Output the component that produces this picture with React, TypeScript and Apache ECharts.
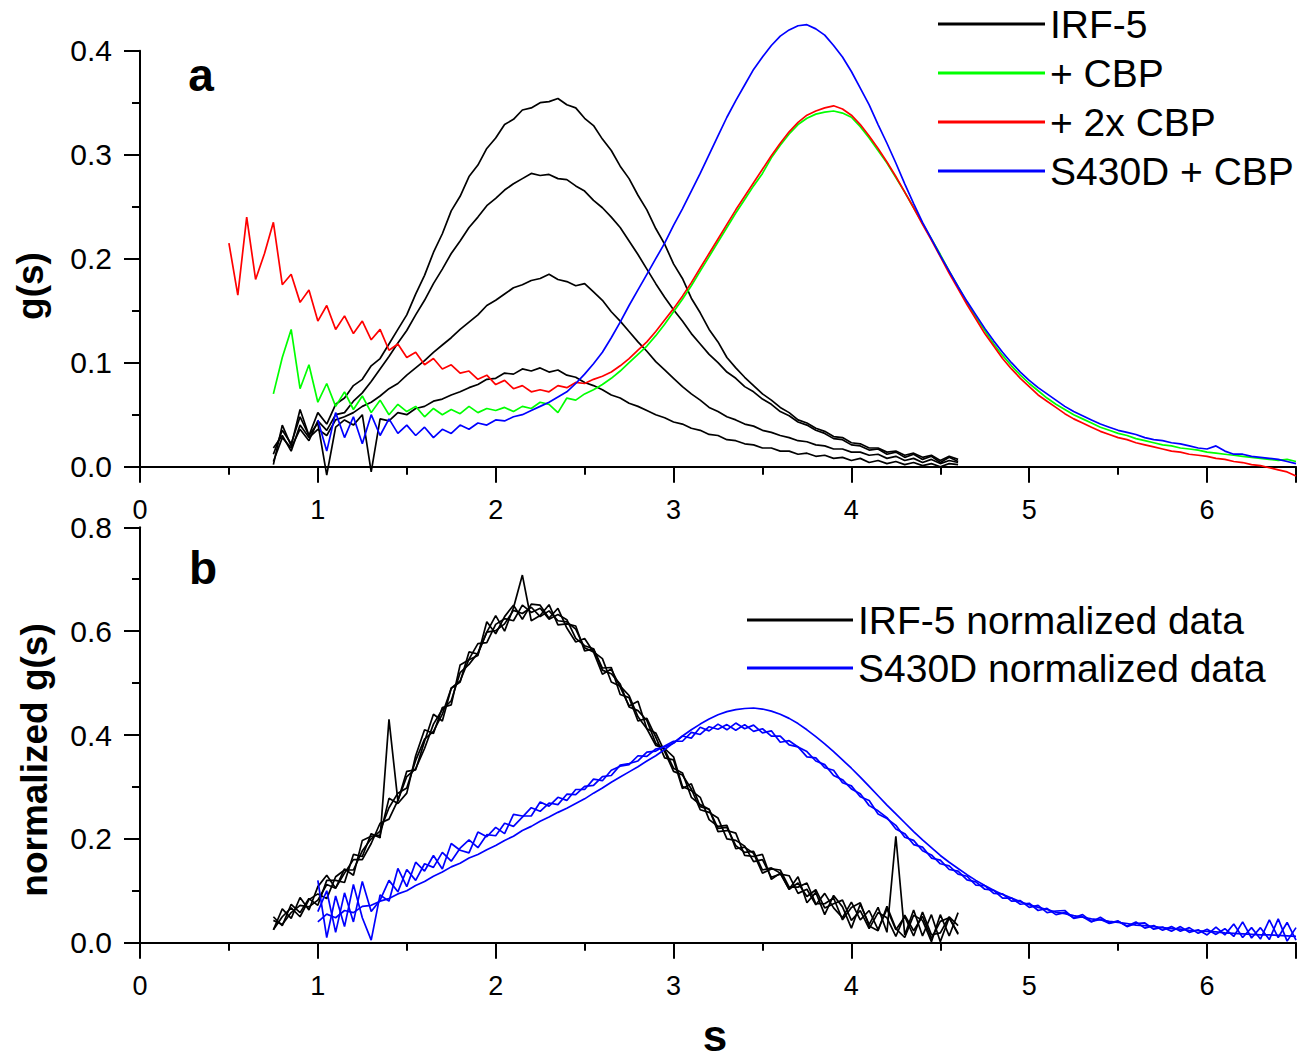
import React, { useEffect, useRef } from "react";
import * as echarts from "echarts";

// sedimentation coefficient grid: every series is sampled every 0.05 s
const S_STEP = 0.05;

// ---------- panel a : g(s) ----------
const IRF5_START = 0.75;
const irf5TopA = [0.012, 0.035, 0.022, 0.048, 0.030, 0.052, 0.041, 0.060, 0.066, 0.078,
  0.084, 0.097, 0.104, 0.118, 0.132, 0.146, 0.166, 0.184, 0.206, 0.224,
  0.246, 0.260, 0.279, 0.290, 0.306, 0.316, 0.329, 0.334, 0.343, 0.345,
  0.350, 0.351, 0.354, 0.348, 0.345, 0.335, 0.328, 0.315, 0.304, 0.289,
  0.277, 0.261, 0.247, 0.229, 0.214, 0.195, 0.181, 0.162, 0.148, 0.132,
  0.120, 0.105, 0.095, 0.086, 0.078, 0.070, 0.064, 0.057, 0.052, 0.045,
  0.042, 0.037, 0.034, 0.029, 0.028, 0.023, 0.022, 0.018, 0.018, 0.014,
  0.015, 0.011, 0.013, 0.009, 0.011, 0.006, 0.010, 0.007];
const irf5TopB = [0.005, 0.028, 0.018, 0.036, 0.025, 0.044, 0.035, 0.050, 0.052, 0.063,
  0.071, 0.082, 0.094, 0.106, 0.119, 0.131, 0.146, 0.160, 0.176, 0.190,
  0.205, 0.217, 0.230, 0.240, 0.251, 0.258, 0.266, 0.272, 0.277, 0.282,
  0.280, 0.281, 0.277, 0.276, 0.270, 0.265, 0.256, 0.249, 0.240, 0.230,
  0.217, 0.204, 0.190, 0.176, 0.163, 0.151, 0.140, 0.128, 0.118, 0.108,
  0.100, 0.091, 0.085, 0.077, 0.072, 0.065, 0.060, 0.053, 0.049, 0.043,
  0.040, 0.035, 0.032, 0.027, 0.026, 0.021, 0.020, 0.016, 0.017, 0.012,
  0.014, 0.009, 0.012, 0.007, 0.010, 0.004, 0.009, 0.005];
const irf5TopC = [0.018, 0.030, 0.015, 0.040, 0.028, 0.036, 0.030, 0.045, 0.048, 0.052,
  0.058, 0.062, 0.068, 0.075, 0.080, 0.088, 0.095, 0.102, 0.110, 0.117,
  0.124, 0.132, 0.139, 0.146, 0.155, 0.160, 0.166, 0.172, 0.175, 0.179,
  0.181, 0.185, 0.180, 0.178, 0.174, 0.176, 0.168, 0.160, 0.149, 0.140,
  0.130, 0.120, 0.111, 0.101, 0.093, 0.085, 0.077, 0.070, 0.064, 0.057,
  0.053, 0.048, 0.045, 0.041, 0.039, 0.035, 0.033, 0.030, 0.028, 0.025,
  0.024, 0.021, 0.020, 0.017, 0.017, 0.014, 0.014, 0.011, 0.012, 0.008,
  0.010, 0.006, 0.008, 0.004, 0.007, 0.003, 0.006, 0.004];
const irf5TopD = [0.002, 0.040, 0.020, 0.055, 0.030, 0.042, -0.008, 0.038, 0.045, 0.040,
  0.050, -0.005, 0.046, 0.044, 0.052, 0.050, 0.056, 0.058, 0.063, 0.065,
  0.069, 0.072, 0.076, 0.079, 0.084, 0.085, 0.090, 0.089, 0.094, 0.092,
  0.095, 0.091, 0.093, 0.088, 0.086, 0.081, 0.078, 0.074, 0.069, 0.066,
  0.061, 0.058, 0.054, 0.050, 0.047, 0.043, 0.041, 0.037, 0.035, 0.031,
  0.030, 0.026, 0.025, 0.022, 0.021, 0.018, 0.018, 0.015, 0.015, 0.012,
  0.013, 0.010, 0.011, 0.008, 0.009, 0.006, 0.008, 0.004, 0.006, 0.003,
  0.005, 0.002, 0.004, 0.001, 0.003, 0.000, 0.003, 0.002];

const CBP_START = 0.75;
const cbpValues = [0.070, 0.105, 0.132, 0.075, 0.098, 0.062, 0.080, 0.058, 0.072, 0.055,
  0.068, 0.052, 0.064, 0.050, 0.060, 0.053, 0.058, 0.048, 0.056, 0.050,
  0.055, 0.051, 0.058, 0.052, 0.056, 0.054, 0.057, 0.053, 0.058, 0.056,
  0.062, 0.060, 0.052, 0.066, 0.064, 0.070, 0.074, 0.079, 0.085, 0.092,
  0.100, 0.108, 0.116, 0.126, 0.137, 0.149, 0.161, 0.174, 0.188, 0.202,
  0.216, 0.230, 0.244, 0.257, 0.270, 0.282, 0.297, 0.309, 0.320, 0.329,
  0.335, 0.339, 0.341, 0.342, 0.340, 0.336, 0.327, 0.316, 0.304, 0.292,
  0.278, 0.264, 0.249, 0.234, 0.219, 0.204, 0.188, 0.173, 0.158, 0.144,
  0.131, 0.118, 0.107, 0.097, 0.088, 0.080, 0.073, 0.066, 0.060, 0.055,
  0.050, 0.046, 0.042, 0.038, 0.035, 0.032, 0.030, 0.027, 0.025, 0.023,
  0.021, 0.020, 0.018, 0.017, 0.016, 0.014, 0.013, 0.012, 0.011, 0.010,
  0.009, 0.008, 0.007, 0.006, 0.007, 0.005];

const CBP2_START = 0.5;
const cbp2Values = [0.215, 0.165, 0.240, 0.180, 0.205, 0.235, 0.175, 0.185, 0.158, 0.170,
  0.140, 0.155, 0.132, 0.145, 0.128, 0.140, 0.122, 0.132, 0.112, 0.118,
  0.105, 0.110, 0.098, 0.104, 0.094, 0.098, 0.090, 0.092, 0.084, 0.088,
  0.079, 0.083, 0.075, 0.078, 0.072, 0.074, 0.072, 0.078, 0.076, 0.081,
  0.080, 0.084, 0.087, 0.091, 0.097, 0.104, 0.112, 0.120, 0.130, 0.141,
  0.152, 0.164, 0.177, 0.191, 0.205, 0.219, 0.233, 0.247, 0.260, 0.273,
  0.286, 0.299, 0.311, 0.322, 0.331, 0.338, 0.342, 0.345, 0.347, 0.344,
  0.338, 0.329, 0.318, 0.306, 0.293, 0.279, 0.264, 0.249, 0.233, 0.218,
  0.202, 0.186, 0.171, 0.156, 0.142, 0.128, 0.116, 0.104, 0.094, 0.085,
  0.077, 0.069, 0.063, 0.057, 0.051, 0.046, 0.042, 0.038, 0.034, 0.031,
  0.028, 0.026, 0.023, 0.021, 0.019, 0.017, 0.015, 0.014, 0.012, 0.011,
  0.010, 0.008, 0.007, 0.005, 0.004, 0.002, 0.001, -0.001, -0.003, -0.005,
  -0.009];

const S430D_START = 1.0;
const s430dCbpValues = [0.045, 0.015, 0.052, 0.028, 0.048, 0.022, 0.050, 0.030, 0.046, 0.032,
  0.040, 0.030, 0.038, 0.028, 0.036, 0.032, 0.040, 0.036, 0.042, 0.040,
  0.045, 0.044, 0.048, 0.050, 0.054, 0.058, 0.062, 0.067, 0.072, 0.080,
  0.089, 0.099, 0.110, 0.124, 0.139, 0.155, 0.170, 0.185, 0.200, 0.215,
  0.232, 0.248, 0.265, 0.282, 0.300, 0.318, 0.336, 0.352, 0.367, 0.382,
  0.394, 0.405, 0.414, 0.420, 0.424, 0.425, 0.421, 0.415, 0.405, 0.394,
  0.380, 0.364, 0.348, 0.329, 0.311, 0.292, 0.272, 0.253, 0.235, 0.219,
  0.203, 0.188, 0.173, 0.159, 0.146, 0.133, 0.121, 0.110, 0.100, 0.091,
  0.083, 0.076, 0.070, 0.064, 0.058, 0.053, 0.049, 0.045, 0.041, 0.038,
  0.035, 0.033, 0.031, 0.028, 0.026, 0.025, 0.023, 0.022, 0.020, 0.018,
  0.017, 0.020, 0.015, 0.012, 0.012, 0.010, 0.009, 0.008, 0.007, 0.005,
  0.003];

// ---------- panel b : normalized g(s) ----------
const irf5NormA = [0.025, 0.065, 0.047, 0.087, 0.063, 0.108, 0.130, 0.105, 0.142, 0.130,
  0.197, 0.205, 0.207, 0.278, 0.268, 0.288, 0.360, 0.410, 0.403, 0.453,
  0.458, 0.535, 0.545, 0.553, 0.618, 0.595, 0.628, 0.650, 0.623, 0.652,
  0.650, 0.625, 0.644, 0.606, 0.579, 0.586, 0.560, 0.517, 0.527, 0.492,
  0.456, 0.465, 0.412, 0.380, 0.374, 0.358, 0.301, 0.293, 0.280, 0.237,
  0.224, 0.226, 0.181, 0.184, 0.172, 0.134, 0.142, 0.140, 0.107, 0.107,
  0.115, 0.075, 0.075, 0.086, 0.044, 0.068, 0.077, 0.032, 0.023, 0.070,
  0.027, 0.010, 0.053, 0.043, 0.002, 0.054, 0.013, 0.058];
const irf5NormB = [0.050, 0.033, 0.074, 0.058, 0.085, 0.072, 0.120, 0.120, 0.116, 0.170,
  0.166, 0.210, 0.202, 0.430, 0.273, 0.330, 0.333, 0.388, 0.440, 0.427,
  0.490, 0.502, 0.560, 0.556, 0.598, 0.630, 0.600, 0.645, 0.708, 0.620,
  0.630, 0.651, 0.612, 0.614, 0.610, 0.562, 0.566, 0.529, 0.530, 0.478,
  0.472, 0.427, 0.432, 0.396, 0.356, 0.352, 0.297, 0.306, 0.262, 0.257,
  0.214, 0.216, 0.211, 0.168, 0.166, 0.170, 0.122, 0.134, 0.103, 0.127,
  0.077, 0.097, 0.054, 0.091, 0.069, 0.028, 0.074, 0.035, 0.068, 0.020,
  0.205, 0.015, 0.063, 0.013, 0.054, 0.002, 0.048, 0.016];
const irf5NormC = [0.025, 0.050, 0.067, 0.050, 0.083, 0.094, 0.085, 0.127, 0.140, 0.140,
  0.177, 0.200, 0.215, 0.260, 0.288, 0.298, 0.351, 0.392, 0.407, 0.440,
  0.490, 0.504, 0.546, 0.576, 0.578, 0.613, 0.624, 0.620, 0.650, 0.636,
  0.644, 0.623, 0.632, 0.622, 0.586, 0.572, 0.566, 0.525, 0.518, 0.498,
  0.454, 0.447, 0.428, 0.384, 0.372, 0.336, 0.327, 0.280, 0.266, 0.257,
  0.220, 0.222, 0.187, 0.174, 0.176, 0.140, 0.144, 0.134, 0.103, 0.115,
  0.089, 0.102, 0.067, 0.075, 0.082, 0.043, 0.062, 0.027, 0.058, 0.048,
  0.012, 0.053, 0.023, 0.051, 0.008, 0.041, 0.048, 0.018];
const irf5NormD = [0.043, 0.035, 0.058, 0.072, 0.069, 0.082, 0.112, 0.105, 0.134, 0.160,
  0.160, 0.191, 0.230, 0.238, 0.274, 0.320, 0.335, 0.374, 0.421, 0.449,
  0.466, 0.520, 0.536, 0.558, 0.598, 0.601, 0.614, 0.640, 0.634, 0.646,
  0.628, 0.639, 0.620, 0.618, 0.604, 0.568, 0.560, 0.547, 0.502, 0.494,
  0.476, 0.435, 0.412, 0.404, 0.368, 0.330, 0.323, 0.296, 0.256, 0.251,
  0.240, 0.200, 0.197, 0.186, 0.156, 0.160, 0.126, 0.132, 0.129, 0.095,
  0.103, 0.073, 0.095, 0.067, 0.048, 0.078, 0.044, 0.062, 0.025, 0.065,
  0.025, 0.050, 0.013, 0.059, 0.015, 0.019, 0.050, 0.033];

const s430dNormA = [0.040, 0.055, 0.048, 0.062, 0.058, 0.070, 0.072, 0.080, 0.085, 0.094,
  0.100, 0.110, 0.118, 0.128, 0.136, 0.146, 0.153, 0.163, 0.170, 0.179,
  0.187, 0.197, 0.205, 0.216, 0.224, 0.234, 0.242, 0.251, 0.259, 0.268,
  0.277, 0.288, 0.298, 0.309, 0.319, 0.329, 0.339, 0.350, 0.360, 0.372,
  0.385, 0.398, 0.410, 0.421, 0.431, 0.439, 0.445, 0.449, 0.451, 0.452,
  0.450, 0.446, 0.440, 0.432, 0.422, 0.410, 0.397, 0.383, 0.368, 0.352,
  0.336, 0.319, 0.301, 0.283, 0.265, 0.248, 0.231, 0.214, 0.198, 0.183,
  0.168, 0.155, 0.143, 0.131, 0.120, 0.110, 0.101, 0.093, 0.086, 0.079,
  0.073, 0.068, 0.064, 0.059, 0.056, 0.052, 0.049, 0.046, 0.044, 0.041,
  0.039, 0.037, 0.034, 0.033, 0.031, 0.029, 0.027, 0.026, 0.024, 0.023,
  0.022, 0.021, 0.019, 0.018, 0.017, 0.016, 0.015, 0.015, 0.014, 0.013,
  0.012];
const s430dNormB = [0.120, 0.010, 0.090, 0.031, 0.112, 0.048, 0.005, 0.092, 0.080, 0.143,
  0.108, 0.155, 0.138, 0.168, 0.142, 0.191, 0.178, 0.173, 0.213, 0.204,
  0.222, 0.210, 0.247, 0.244, 0.244, 0.271, 0.263, 0.280, 0.274, 0.295,
  0.295, 0.315, 0.312, 0.332, 0.340, 0.343, 0.360, 0.359, 0.373, 0.377,
  0.384, 0.398, 0.394, 0.415, 0.408, 0.421, 0.410, 0.423, 0.412, 0.419,
  0.404, 0.408, 0.386, 0.389, 0.377, 0.358, 0.356, 0.337, 0.332, 0.308,
  0.302, 0.281, 0.274, 0.248, 0.239, 0.226, 0.203, 0.197, 0.177, 0.169,
  0.152, 0.148, 0.132, 0.128, 0.111, 0.110, 0.095, 0.094, 0.080, 0.081,
  0.068, 0.072, 0.058, 0.061, 0.062, 0.047, 0.050, 0.040, 0.049, 0.038,
  0.042, 0.031, 0.037, 0.038, 0.026, 0.030, 0.022, 0.031, 0.020, 0.025,
  0.015, 0.030, 0.015, 0.036, 0.010, 0.029, 0.007, 0.044, 0.010, 0.039,
  0.005];
const s430dNormC = [0.060, 0.100, 0.020, 0.096, 0.040, 0.118, 0.060, 0.082, 0.120, 0.098,
  0.141, 0.120, 0.152, 0.145, 0.174, 0.157, 0.182, 0.198, 0.183, 0.208,
  0.206, 0.230, 0.224, 0.242, 0.260, 0.253, 0.269, 0.266, 0.286, 0.285,
  0.301, 0.303, 0.320, 0.322, 0.342, 0.345, 0.350, 0.367, 0.369, 0.379,
  0.388, 0.388, 0.405, 0.401, 0.416, 0.411, 0.420, 0.409, 0.420, 0.407,
  0.412, 0.398, 0.398, 0.381, 0.377, 0.368, 0.350, 0.343, 0.322, 0.314,
  0.296, 0.287, 0.264, 0.254, 0.241, 0.219, 0.210, 0.189, 0.184, 0.163,
  0.159, 0.141, 0.138, 0.121, 0.117, 0.103, 0.101, 0.086, 0.086, 0.074,
  0.076, 0.062, 0.066, 0.054, 0.058, 0.048, 0.054, 0.041, 0.045, 0.037,
  0.041, 0.032, 0.040, 0.028, 0.033, 0.024, 0.031, 0.022, 0.029, 0.018,
  0.026, 0.016, 0.027, 0.012, 0.040, 0.009, 0.029, 0.006, 0.046, 0.003,
  0.029];

// ---------- axes ----------
const X_MIN = 0;
const X_MAX = 6.5;
const X_MAJOR = 1;
const X_MINOR = 0.5;
const TOP_Y_MAX = 0.4;
const TOP_Y_STEP = 0.1;
const BOTTOM_Y_MAX = 0.8;
const BOTTOM_Y_STEP = 0.2;

const topLegend = ["IRF-5", "+ CBP", "+ 2x CBP", "S430D + CBP"];
const bottomLegend = ["IRF-5 normalized data", "S430D normalized data"];

const BLACK = "#000000";
const GREEN = "#00ff00";
const RED = "#ff0000";
const BLUE = "#0000ff";
const FONT = '"Liberation Sans", Arial, Helvetica, sans-serif';

function toPoints(start: number, ys: number[]) {
  return ys.map((y, i) => [Math.round((start + i * S_STEP) * 100) / 100, y]);
}

function lineSeries(name: string, color: string, data: number[][], axis: number) {
  return {
    type: "line",
    name,
    data,
    xAxisIndex: axis * 2,
    yAxisIndex: axis,
    showSymbol: false,
    symbol: "none",
    clip: false,
    silent: true,
    lineStyle: { color, width: 1.7 },
    itemStyle: { color },
    emphasis: { disabled: true },
  };
}

function majorX(grid: number) {
  return {
    type: "value",
    gridIndex: grid,
    position: "bottom",
    min: X_MIN,
    max: X_MAX,
    interval: X_MAJOR,
    axisLine: { show: true, onZero: false, lineStyle: { color: BLACK, width: 2 } },
    axisTick: { show: true, inside: false, length: 16, lineStyle: { color: BLACK, width: 2 } },
    axisLabel: {
      show: true,
      margin: 30,
      color: BLACK,
      fontSize: 27,
      fontFamily: FONT,
      formatter: (v: number) => (Number.isInteger(v) ? String(v) : ""),
    },
    splitLine: { show: false },
  };
}

function minorX(grid: number) {
  return {
    type: "value",
    gridIndex: grid,
    position: "bottom",
    min: X_MIN,
    max: X_MAX,
    interval: X_MINOR,
    axisLine: { show: false },
    axisTick: { show: true, inside: false, length: 8, lineStyle: { color: BLACK, width: 2 } },
    axisLabel: { show: false },
    splitLine: { show: false },
  };
}

function yAxis(grid: number, max: number, step: number) {
  return {
    type: "value",
    gridIndex: grid,
    min: 0,
    max,
    interval: step,
    axisLine: { show: true, onZero: false, lineStyle: { color: BLACK, width: 2 } },
    axisTick: { show: true, inside: false, length: 16, lineStyle: { color: BLACK, width: 2 } },
    minorTick: { show: true, splitNumber: 2, length: 8, lineStyle: { color: BLACK, width: 2 } },
    minorSplitLine: { show: false },
    axisLabel: {
      show: true,
      margin: 28,
      color: BLACK,
      fontSize: 30,
      fontFamily: FONT,
      formatter: (v: number) => v.toFixed(1),
    },
    splitLine: { show: false },
  };
}

export default function App() {
  const ref = useRef<HTMLDivElement>(null);

  useEffect(() => {
    if (!ref.current) return;
    const chart = echarts.init(ref.current, undefined, { renderer: "svg" });

    const series = [
      lineSeries("IRF-5", BLACK, toPoints(IRF5_START, irf5TopA), 0),
      lineSeries("IRF-5", BLACK, toPoints(IRF5_START, irf5TopB), 0),
      lineSeries("IRF-5", BLACK, toPoints(IRF5_START, irf5TopC), 0),
      lineSeries("IRF-5", BLACK, toPoints(IRF5_START, irf5TopD), 0),
      lineSeries("+ CBP", GREEN, toPoints(CBP_START, cbpValues), 0),
      lineSeries("+ 2x CBP", RED, toPoints(CBP2_START, cbp2Values), 0),
      lineSeries("S430D + CBP", BLUE, toPoints(S430D_START, s430dCbpValues), 0),
      lineSeries("IRF-5 normalized data", BLACK, toPoints(IRF5_START, irf5NormA), 1),
      lineSeries("IRF-5 normalized data", BLACK, toPoints(IRF5_START, irf5NormB), 1),
      lineSeries("IRF-5 normalized data", BLACK, toPoints(IRF5_START, irf5NormC), 1),
      lineSeries("IRF-5 normalized data", BLACK, toPoints(IRF5_START, irf5NormD), 1),
      lineSeries("S430D normalized data", BLUE, toPoints(S430D_START, s430dNormA), 1),
      lineSeries("S430D normalized data", BLUE, toPoints(S430D_START, s430dNormB), 1),
      lineSeries("S430D normalized data", BLUE, toPoints(S430D_START, s430dNormC), 1),
    ];

    const legendCommon = {
      orient: "vertical",
      icon: "rect",
      itemHeight: 3,
      selectedMode: false,
      padding: 0,
      textStyle: { fontSize: 39, color: BLACK, fontFamily: FONT },
    };

    chart.setOption({
      animation: false,
      backgroundColor: "#ffffff",
      textStyle: { fontFamily: FONT },
      grid: [
        { left: 140, right: 10, top: 50.7, height: 416, containLabel: false },
        { left: 140, right: 10, top: 527.3, height: 415.4, containLabel: false },
      ],
      xAxis: [majorX(0), minorX(0), majorX(1), minorX(1)],
      yAxis: [yAxis(0, TOP_Y_MAX, TOP_Y_STEP), yAxis(1, BOTTOM_Y_MAX, BOTTOM_Y_STEP)],
      legend: [
        { ...legendCommon, left: 938, top: 4.5, itemWidth: 107, itemGap: 10, data: topLegend },
        { ...legendCommon, left: 747, top: 600.5, itemWidth: 106, itemGap: 9, data: bottomLegend },
      ],
      graphic: [
        {
          type: "text",
          x: 201,
          y: 75,
          style: { text: "a", font: `bold 46px ${FONT}`, fill: BLACK, textAlign: "center", textVerticalAlign: "middle" },
        },
        {
          type: "text",
          x: 203,
          y: 568,
          style: { text: "b", font: `bold 46px ${FONT}`, fill: BLACK, textAlign: "center", textVerticalAlign: "middle" },
        },
        {
          type: "text",
          x: 30,
          y: 286,
          rotation: Math.PI / 2,
          style: { text: "g(s)", font: `bold 37px ${FONT}`, fill: BLACK, textAlign: "center", textVerticalAlign: "middle" },
        },
        {
          type: "text",
          x: 34,
          y: 760,
          rotation: Math.PI / 2,
          style: { text: "normalized g(s)", font: `bold 37px ${FONT}`, fill: BLACK, textAlign: "center", textVerticalAlign: "middle" },
        },
        {
          type: "text",
          x: 715,
          y: 1035,
          style: { text: "s", font: `bold 44px ${FONT}`, fill: BLACK, textAlign: "center", textVerticalAlign: "middle" },
        },
      ],
      series,
    });

    return () => chart.dispose();
  }, []);

  return (
    <div
      ref={ref}
      style={{ position: "fixed", left: 0, top: 0, width: 1306, height: 1059, background: "#fff" }}
    />
  );
}
